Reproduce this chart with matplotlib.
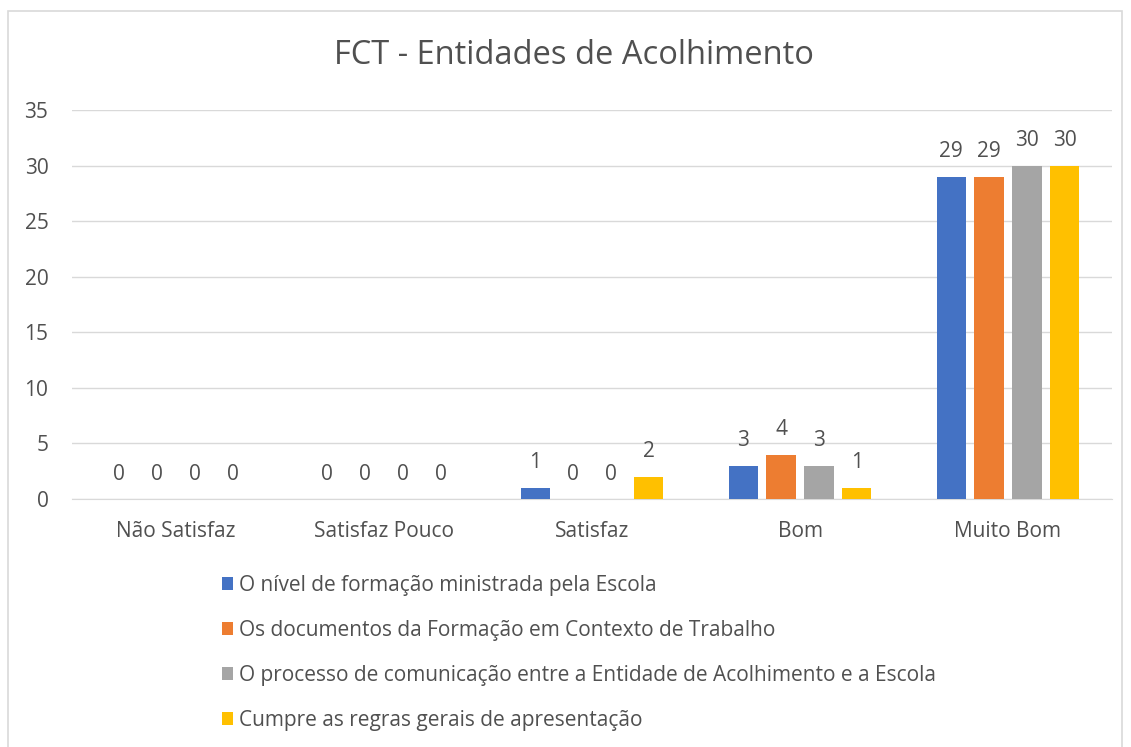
import matplotlib
matplotlib.use("Agg")
import matplotlib.pyplot as plt
import numpy as np
from matplotlib.patches import Rectangle, Patch

categories = ["Não Satisfaz", "Satisfaz Pouco", "Satisfaz", "Bom", "Muito Bom"]
series_names = [
    "O nível de formação ministrada pela Escola",
    "Os documentos da Formação em Contexto de Trabalho",
    "O processo de comunicação entre a Entidade de Acolhimento e a Escola",
    "Cumpre as regras gerais de apresentação",
]
nivel_formacao = [0, 0, 1, 3, 29]
documentos_fct = [0, 0, 0, 4, 29]
processo_comunicacao = [0, 0, 0, 3, 30]
regras_gerais = [0, 0, 2, 1, 30]
yticks = [0, 5, 10, 15, 20, 25, 30, 35]

series = [nivel_formacao, documentos_fct, processo_comunicacao, regras_gerais]
colors = ["#4472C4", "#ED7D31", "#A5A5A5", "#FFC000"]
text_color = "#505050"

plt.rcParams['font.family'] = ['Open Sans', 'DejaVu Sans']

W, H = 1131, 747
fig = plt.figure(figsize=(W / 100, H / 100), dpi=100)
ax = fig.add_axes([72 / W, 1 - 499 / H, (1112 - 72) / W, (499 - 110) / H])

x = np.arange(len(categories))
step = 0.1815
width = 0.142
for i, (vals, col) in enumerate(zip(series, colors)):
    pos = x + (i - 1.5) * step
    ax.bar(pos, vals, width=width, color=col, zorder=3)
    for px, v in zip(pos, vals):
        ax.annotate(str(v), (px, v), xytext=(0, 18), textcoords="offset points",
                    ha="center", va="center", fontsize=15, color=text_color)

ax.set_xlim(-0.5, len(categories) - 0.5)
ax.set_ylim(0, 35)
ax.set_yticks(yticks)
ax.set_xticks(x)
ax.set_xticklabels(categories)
ax.grid(axis="y", color="#D9D9D9", linewidth=1, zorder=0)
for s in ["top", "right", "left"]:
    ax.spines[s].set_visible(False)
ax.spines["bottom"].set_color("#D9D9D9")
ax.tick_params(axis="both", length=0, labelsize=15, labelcolor=text_color)
ax.tick_params(axis="y", pad=17)
ax.tick_params(axis="x", pad=16)

fig.text(574 / W, 1 - 55 / H, "FCT - Entidades de Acolhimento", ha="center", va="center",
         fontsize=23.5, color=text_color)

handles = [Patch(facecolor=c, edgecolor="none") for c in colors]
fig.legend(handles, series_names, loc="upper left", bbox_to_anchor=(222 / W, 1 - 575 / H),
           frameon=False, fontsize=15, labelcolor=text_color, handlelength=0.55,
           handleheight=0.55, handletextpad=0.25, labelspacing=1.15, borderaxespad=0,
           borderpad=0)

fig.patches.append(Rectangle((8 / W, -0.05), (1122 - 8) / W, 1.05 - 11 / H,
                             transform=fig.transFigure, fill=False,
                             edgecolor="#D9D9D9", linewidth=1.2))

fig.savefig("out.png", dpi=100)
